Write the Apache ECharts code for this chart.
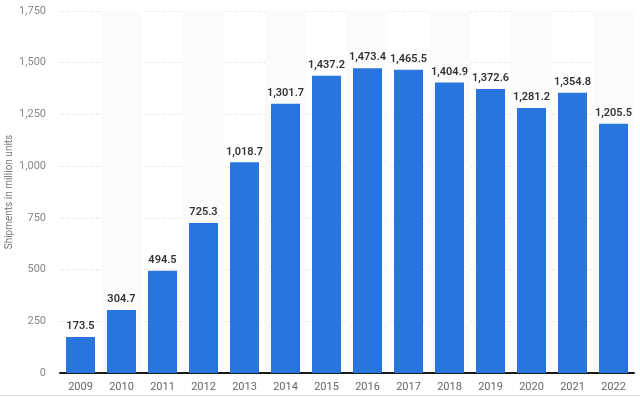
<!DOCTYPE html>
<html lang="en">
<head>
  <meta charset="UTF-8">
  <title>Shipments</title>
  <script src="https://cdn.jsdelivr.net/npm/echarts@6/dist/echarts.min.js"></script>
  <style>
    html, body { margin: 0; padding: 0; background: #fff; }
  </style>
</head>
<body>
  <div id="main" style="width: 640px;height:398px;"></div>
  <script>
    let years = ['2009', '2010', '2011', '2012', '2013', '2014', '2015', '2016',
      '2017', '2018', '2019', '2020', '2021', '2022'];
    let shipments = [173.5, 304.7, 494.5, 725.3, 1018.7, 1301.7, 1437.2, 1473.4,
      1465.5, 1404.9, 1372.6, 1281.2, 1354.8, 1205.5];
    let yTitle = 'Shipments in million units';

    let fmt = (v) => v.toLocaleString('en-US', { minimumFractionDigits: 1, maximumFractionDigits: 1 });

    let chart = echarts.init(document.getElementById('main'));
    chart.setOption({
      animation: false,
      textStyle: { fontFamily: 'Roboto, sans-serif' },
      grid: { left: 60, right: 6, top: 11, bottom: 25, containLabel: false, outerBoundsMode: 'none' },
      graphic: [{
        type: 'rect',
        left: 0,
        top: 395,
        shape: { width: 640, height: 1 },
        style: { fill: '#e0e0e0' }
      }, {
        // y axis title
        type: 'text',
        x: 9,
        y: 192,
        rotation: Math.PI / 2,
        style: {
          text: yTitle,
          fill: '#777',
          font: '10px Roboto, sans-serif',
          align: 'center',
          verticalAlign: 'middle'
        }
      }],
      xAxis: {
        type: 'category',
        data: years,
        axisLine: { lineStyle: { color: '#1a1a1a', width: 2 } },
        axisTick: { show: false },
        axisLabel: { color: '#666', fontSize: 11, margin: 9 },
        splitArea: { show: true, areaStyle: { color: ['rgba(255,255,255,0)', '#fbfbfb'] } }
      },
      yAxis: {
        type: 'value',
        min: 0,
        max: 1750,
        interval: 250,
        axisLine: { show: false },
        axisTick: { show: false },
        axisLabel: {
          color: '#888', fontSize: 11, margin: 14,
          formatter: (v) => v.toLocaleString('en-US')
        },
        splitLine: { lineStyle: { color: '#d8d8d8', type: [1, 2] } }
      },
      series: [{
        type: 'bar',
        data: shipments,
        barWidth: 29,
        itemStyle: { color: '#2876dd' },
        label: {
          show: true,
          position: 'top',
          distance: 5,
          color: '#333',
          fontSize: 11,
          fontWeight: 600,
          formatter: (p) => fmt(p.value)
        }
      }]
    });
  </script>
</body>
</html>
